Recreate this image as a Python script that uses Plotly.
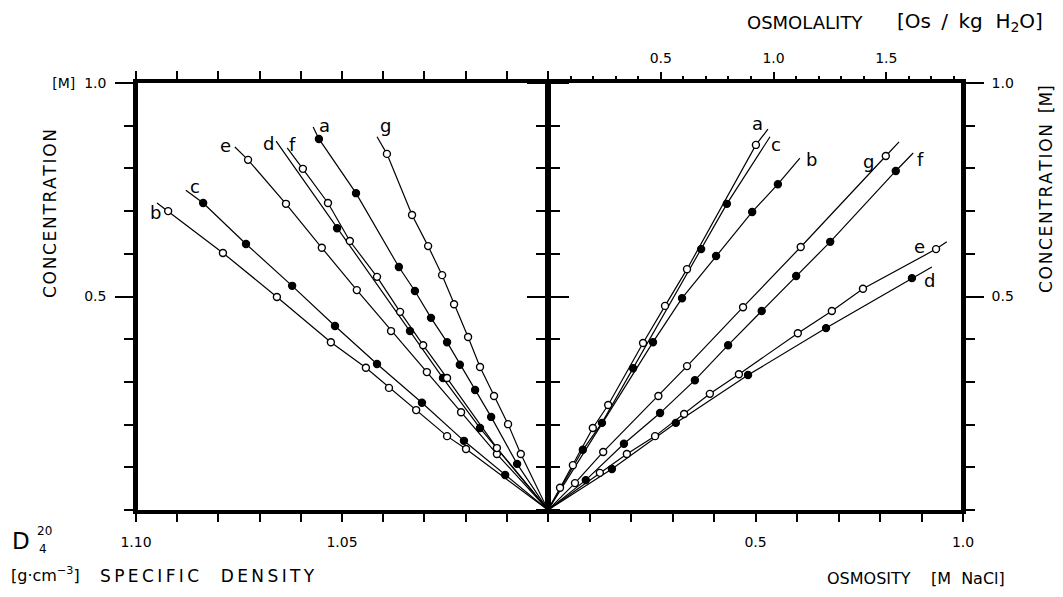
import plotly.graph_objects as go

# ---------------- LEFT PANEL: specific density D4^20 [g/cm3] vs concentration [M] ----------------
dens_conc_a = [0.869, 0.742, 0.569, 0.513, 0.450, 0.393, 0.340, 0.281, 0.218, 0.108]
dens_val_a  = [1.0556, 1.0466, 1.0362, 1.0323, 1.0284, 1.0245, 1.0214, 1.0177, 1.0138, 1.0075]
dens_end_a  = [1.0570, 0.897]

dens_conc_b = [0.700, 0.602, 0.499, 0.393, 0.333, 0.286, 0.234, 0.173, 0.143]
dens_val_b  = [1.0922, 1.0789, 1.0658, 1.0527, 1.0442, 1.0386, 1.0320, 1.0245, 1.0199]
dens_end_b  = [1.0949, 0.719]

dens_conc_c = [0.719, 0.623, 0.525, 0.431, 0.342, 0.251, 0.162, 0.082]
dens_val_c  = [1.0837, 1.0733, 1.0621, 1.0517, 1.0415, 1.0306, 1.0204, 1.0104]
dens_end_c  = [1.0879, 0.749]

dens_conc_d = [0.660, 0.419, 0.309, 0.192]
dens_val_d  = [1.0512, 1.0335, 1.0255, 1.0165]
dens_end_d  = [1.0660, 0.864]

dens_conc_e = [0.820, 0.717, 0.614, 0.515, 0.419, 0.323, 0.229, 0.131]
dens_val_e  = [1.0728, 1.0636, 1.0549, 1.0464, 1.0381, 1.0294, 1.0211, 1.0124]
dens_end_e  = [1.0760, 0.850]

dens_conc_f = [0.799, 0.719, 0.630, 0.546, 0.464, 0.386, 0.309, 0.145]
dens_val_f  = [1.0595, 1.0534, 1.0481, 1.0415, 1.0359, 1.0303, 1.0245, 1.0124]
dens_end_f  = [1.0633, 0.848]

dens_conc_g = [0.834, 0.691, 0.618, 0.550, 0.482, 0.405, 0.335, 0.267, 0.201, 0.131]
dens_val_g  = [1.0391, 1.0330, 1.0291, 1.0257, 1.0228, 1.0194, 1.0165, 1.0131, 1.0097, 1.0066]
dens_end_g  = [1.0415, 0.874]

# ---------------- RIGHT PANEL: osmosity [M NaCl] vs concentration [M] ----------------
osm_conc_a = [0.855, 0.564, 0.478, 0.391, 0.246, 0.192, 0.105, 0.052]
osm_val_a  = [0.501, 0.335, 0.282, 0.229, 0.145, 0.108, 0.060, 0.029]
osm_end_a  = [0.530, 0.892]

osm_conc_b = [0.763, 0.698, 0.595, 0.496, 0.393]
osm_val_b  = [0.554, 0.492, 0.405, 0.323, 0.253]
osm_end_b  = [0.607, 0.824]

osm_conc_c = [0.717, 0.611, 0.332, 0.204, 0.141]
osm_val_c  = [0.431, 0.369, 0.205, 0.130, 0.084]
osm_end_c  = [0.535, 0.874]

osm_conc_d = [0.543, 0.426, 0.316, 0.204, 0.096]
osm_val_d  = [0.877, 0.670, 0.482, 0.308, 0.154]
osm_end_d  = [0.925, 0.569]

osm_conc_e = [0.611, 0.518, 0.466, 0.414, 0.318, 0.272, 0.225, 0.173, 0.131, 0.087]
osm_val_e  = [0.935, 0.759, 0.684, 0.602, 0.460, 0.390, 0.328, 0.258, 0.190, 0.125]
osm_end_e  = [0.961, 0.628]

osm_conc_f = [0.794, 0.628, 0.548, 0.466, 0.386, 0.304, 0.227, 0.155, 0.070]
osm_val_f  = [0.838, 0.680, 0.598, 0.515, 0.434, 0.354, 0.270, 0.183, 0.091]
osm_end_f  = [0.880, 0.836]

osm_conc_g = [0.829, 0.616, 0.475, 0.337, 0.267, 0.136, 0.063]
osm_val_g  = [0.814, 0.609, 0.470, 0.335, 0.266, 0.133, 0.065]
osm_end_g  = [0.846, 0.862]

series_names = ["a", "b", "c", "d", "e", "f", "g"]
filled_left = ["a", "c", "d"]
filled_right = ["b", "c", "d", "f"]

# tick labels
density_ticks = [1.10, 1.05]
density_ticklabels = ["1.10", "1.05"]
osmosity_ticks = [0.5, 1.0]
osmosity_ticklabels = ["0.5", "1.0"]
osmolality_ticks = [0.5, 1.0, 1.5]
osmolality_ticklabels = ["0.5", "1.0", "1.5"]
osmolality_max = 1.84
conc_ticks = [0.5, 1.0]
conc_ticklabels_left = ["0.5", "[M]  1.0"]
conc_ticklabels_right = ["0.5", "1.0"]

left_data = {
    "a": (dens_val_a, dens_conc_a, dens_end_a), "b": (dens_val_b, dens_conc_b, dens_end_b),
    "c": (dens_val_c, dens_conc_c, dens_end_c), "d": (dens_val_d, dens_conc_d, dens_end_d),
    "e": (dens_val_e, dens_conc_e, dens_end_e), "f": (dens_val_f, dens_conc_f, dens_end_f),
    "g": (dens_val_g, dens_conc_g, dens_end_g),
}
right_data = {
    "a": (osm_val_a, osm_conc_a, osm_end_a), "b": (osm_val_b, osm_conc_b, osm_end_b),
    "c": (osm_val_c, osm_conc_c, osm_end_c), "d": (osm_val_d, osm_conc_d, osm_end_d),
    "e": (osm_val_e, osm_conc_e, osm_end_e), "f": (osm_val_f, osm_conc_f, osm_end_f),
    "g": (osm_val_g, osm_conc_g, osm_end_g),
}

# label offsets in pixels (styling)
left_label_shift = {"a": (11, 1), "b": (-2, -10), "c": (9, 4), "d": (-8, -2),
                     "e": (-9, 2), "f": (5, 3), "g": (8, 11)}
right_label_shift = {"a": (-10, 6), "b": (12, -1), "c": (6, -8), "d": (-2, -13),
                      "e": (-27, -5), "f": (7, -6), "g": (-31, -20)}

FONT = "DejaVu Sans"
fig = go.Figure()
annotations = []


def add_panel(data, filled, xa, ya, origin_x, shifts):
    for name in series_names:
        xs, ys, end = data[name]
        pts = sorted(zip(ys, xs))
        lx = [origin_x] + [p[1] for p in pts] + [end[0]]
        ly = [0.0] + [p[0] for p in pts] + [end[1]]
        fig.add_trace(go.Scatter(x=lx, y=ly, mode="lines", xaxis=xa, yaxis=ya,
                                 line=dict(color="black", width=1.2),
                                 hoverinfo="skip", showlegend=False))
    for name in series_names:
        xs, ys, end = data[name]
        is_filled = name in filled
        fig.add_trace(go.Scatter(
            x=xs, y=ys, mode="markers", xaxis=xa, yaxis=ya, name=name, showlegend=False,
            marker=dict(symbol="circle", size=7,
                        color="black" if is_filled else "white",
                        line=dict(color="black", width=1.4))))
        dx, dy = shifts[name]
        annotations.append(dict(x=end[0], y=end[1], xref=xa, yref=ya, text=name,
                                showarrow=False, xshift=dx, yshift=dy,
                                font=dict(family=FONT, size=18, color="black")))


add_panel(left_data, filled_left, "x", "y", 1.00, left_label_shift)
add_panel(right_data, filled_right, "x2", "y2", 0.0, right_label_shift)
# empty trace so that the top osmolality axis is drawn
fig.add_trace(go.Scatter(x=[], y=[], xaxis="x3", yaxis="y2", showlegend=False,
                         hoverinfo="skip"))

# geometry (reference pixel positions; page body adds an 8px margin)
OFF = 8
L, R, T, B = 136, 963, 83, 510
W, H = 1063 - 2 * OFF, 597 - 2 * OFF
center_px = 548
dom = (center_px - L) / (R - L)


def px(xp):
    return (xp - L) / (R - L)


def py(yp):
    return (B - yp) / (B - T)


tickfont = dict(family=FONT, size=14, color="black")
dens_minor = [round(1.00 + 0.01 * i, 2) for i in range(11)]
osm_minor = [round(0.1 * i, 1) for i in range(11)]
conc_minor = [round(0.1 * i, 1) for i in range(11)]
osml_minor = [round(0.1 * i, 1) for i in range(19)]


def spaced(s, sep="\u200a"):
    return sep.join(list(s))


text_annots = [
    dict(x=px(50), y=py(214), text=spaced("CONCENTRATION"), textangle=-90, size=17),
    dict(x=px(1046), y=py(189), text=spaced("CONCENTRATION") + "  [M]", textangle=-90, size=17),
    dict(x=px(21), y=py(541), text="D", size=23),
    dict(x=px(44), y=py(531), text="20", size=12),
    dict(x=px(43), y=py(549), text="4", size=12),
    dict(x=px(45), y=py(574), text="[g\u00b7cm<sup>\u22123</sup>]", size=16),
    dict(x=px(207), y=py(576), text=spaced("SPECIFIC", "\u2009") + "    " + spaced("DENSITY", "\u2009"), size=17),
    dict(x=px(916), y=py(578), text="OSMOSITY    [M  NaCl]", size=16),
    dict(x=px(805), y=py(22), text="OSMOLALITY", size=18),
    dict(x=px(970), y=py(22), text="[Os \u2009/\u2009 kg  H<sub>2</sub>O]", size=20),
]
for a in text_annots:
    annotations.append(dict(x=a["x"], y=a["y"], xref="paper", yref="paper", text=a["text"],
                            showarrow=False, textangle=a.get("textangle", 0),
                            xanchor="center", yanchor="middle",
                            font=dict(family=FONT, size=a["size"], color="black")))

axis_common = dict(showgrid=False, zeroline=False, showline=True, linecolor="black",
                   tickcolor="black", tickwidth=1.6, tickfont=tickfont)


def minor_ticks(vals, length):
    return dict(tickvals=vals, ticks="outside", ticklen=length, tickwidth=1.6,
                tickcolor="black", showgrid=False)


# thick outer vertical borders (the centre line is formed by the two inner axis lines)
shapes = [
    dict(type="line", xref="paper", yref="paper", x0=0, x1=0, y0=0, y1=1,
         line=dict(color="black", width=4)),
    dict(type="line", xref="paper", yref="paper", x0=1, x1=1, y0=0, y1=1,
         line=dict(color="black", width=4)),
]

fig.update_layout(
    width=W, height=H,
    margin=dict(l=L - OFF, r=W - (R - OFF), t=T - OFF, b=H - (B - OFF), pad=0),
    paper_bgcolor="white", plot_bgcolor="white",
    showlegend=False,
    shapes=shapes,
    xaxis=dict(domain=[0, dom], anchor="y", range=[1.10, 1.00], autorange=False,
               mirror="ticks", ticks="outside", ticklen=8, linewidth=3.5,
               tickvals=density_ticks, ticktext=density_ticklabels,
               ticklabelstandoff=8, minor=minor_ticks(dens_minor, 8), **axis_common),
    xaxis2=dict(domain=[dom, 1], anchor="y2", range=[0, 1], autorange=False,
                mirror=True, ticks="outside", ticklen=8, linewidth=3.5,
                tickvals=osmosity_ticks, ticktext=osmosity_ticklabels,
                ticklabelstandoff=8, minor=minor_ticks(osm_minor, 8), **axis_common),
    xaxis3=dict(overlaying="x2", anchor="y2", side="top", range=[0, osmolality_max],
                autorange=False, showgrid=False, zeroline=False, showline=False,
                ticks="outside", ticklen=10, tickwidth=1.6, tickcolor="black",
                tickvals=osmolality_ticks, ticktext=osmolality_ticklabels,
                tickfont=tickfont, ticklabelstandoff=3,
                minor=minor_ticks(osml_minor, 6)),
    yaxis=dict(domain=[0, 1], anchor="x", range=[0, 1], autorange=False, side="left",
               mirror="ticks", ticks="outside", ticklen=18, linewidth=2.5,
               tickvals=conc_ticks, ticktext=conc_ticklabels_left,
               ticklabelstandoff=6, minor=minor_ticks(conc_minor, 9), **axis_common),
    yaxis2=dict(domain=[0, 1], anchor="x2", range=[0, 1], autorange=False, side="right",
                mirror="ticks", ticks="outside", ticklen=18, linewidth=2.5,
                tickvals=conc_ticks, ticktext=conc_ticklabels_right,
                ticklabelstandoff=5, minor=minor_ticks(conc_minor, 9), **axis_common),
    annotations=annotations,
)

fig.write_html("out.html")
